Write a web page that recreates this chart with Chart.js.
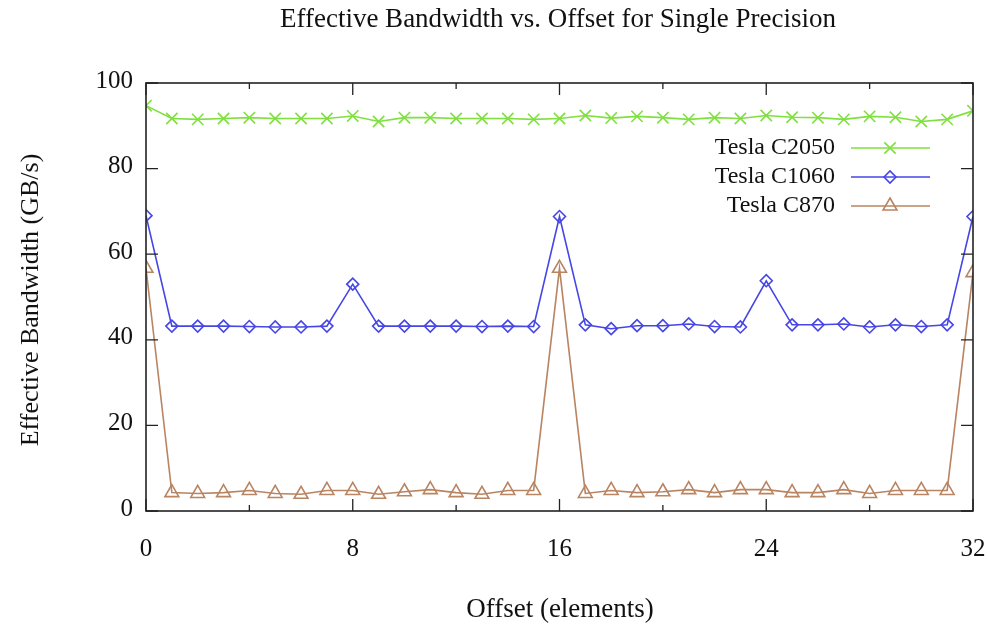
<!DOCTYPE html>
<html><head><meta charset="utf-8">
<script src="https://cdn.jsdelivr.net/npm/chart.js@4.4.1/dist/chart.umd.min.js"></script>
<style>html,body{margin:0;padding:0;background:#fff}#wrap{width:988px;height:624px}</style>
</head><body><div id="wrap"><canvas id="c" width="988" height="624"></canvas></div>
<script>
const offsets = [0,1,2,3,4,5,6,7,8,9,10,11,12,13,14,15,16,17,18,19,20,21,22,23,24,25,26,27,28,29,30,31,32];
const teslaC2050 = [94.7,91.7,91.5,91.7,91.9,91.7,91.7,91.7,92.3,91.0,91.9,91.9,91.7,91.7,91.7,91.5,91.7,92.4,91.8,92.2,91.9,91.5,91.9,91.7,92.4,92.0,91.9,91.5,92.2,92.0,91.0,91.5,93.5];
const teslaC1060 = [69.0,43.2,43.2,43.2,43.1,43.0,43.0,43.2,53.0,43.2,43.2,43.2,43.2,43.1,43.2,43.1,68.8,43.5,42.6,43.3,43.3,43.7,43.1,43.0,53.8,43.5,43.5,43.7,43.0,43.5,43.1,43.5,68.8];
const teslaC870 = [56.7,4.3,4.1,4.3,4.8,4.1,3.9,4.8,4.8,3.9,4.5,5.0,4.3,3.9,4.8,4.8,56.7,4.1,4.8,4.3,4.5,5.0,4.3,5.0,5.0,4.3,4.3,5.0,4.1,4.8,4.8,4.8,55.7];
const seriesNames = ['Tesla C2050','Tesla C1060','Tesla C870'];
const xTicks = [0,8,16,24,32];
const yTicks = [0,20,40,60,80,100];
const chartTitle = 'Effective Bandwidth vs. Offset for Single Precision';
const xTitle = 'Offset (elements)';
const yTitle = 'Effective Bandwidth (GB/s)';

const FONT = '"Liberation Serif", "DejaVu Serif", serif';
const colors = ['#7fe040','#4646e6','#b98462'];

function mk(data, i, style, radius){
  return {label: seriesNames[i], data: offsets.map((x,k)=>({x, y: data[k]})),
    borderColor: colors[i], backgroundColor: 'rgba(255,255,255,0)', borderWidth: 1.6,
    pointStyle: style, pointRadius: radius, pointBorderWidth: 1.6, pointBorderColor: colors[i],
    pointBackgroundColor: 'rgba(255,255,255,0)', tension: 0};
}

const frame = {
  id: 'frame',
  afterDraw(chart){
    const ctx = chart.ctx, a = chart.chartArea, xs = chart.scales.x, ys = chart.scales.y;
    ctx.save();
    ctx.strokeStyle = '#222'; ctx.lineWidth = 1.6;
    ctx.strokeRect(a.left, a.top, a.right - a.left, a.bottom - a.top);
    ctx.lineWidth = 1.3;
    yTicks.forEach(v => {
      const y = ys.getPixelForValue(v);
      ctx.beginPath(); ctx.moveTo(a.left, y); ctx.lineTo(a.left + 12, y);
      ctx.moveTo(a.right, y); ctx.lineTo(a.right - 12, y); ctx.stroke();
    });
    for (let v = 0; v <= 32; v += 4) {
      const x = xs.getPixelForValue(v);
      const len = (v % 8 === 0) ? 12 : 6;
      ctx.beginPath(); ctx.moveTo(x, a.bottom); ctx.lineTo(x, a.bottom - len);
      ctx.moveTo(x, a.top); ctx.lineTo(x, a.top + len); ctx.stroke();
    }
    ctx.fillStyle = '#111';
    ctx.font = '25px ' + FONT;
    ctx.textAlign = 'right'; ctx.textBaseline = 'middle';
    yTicks.forEach(v => ctx.fillText(String(v), a.left - 13, ys.getPixelForValue(v) - 2));
    ctx.textAlign = 'center';
    xTicks.forEach(v => ctx.fillText(String(v), xs.getPixelForValue(v), a.bottom + 38));
    ctx.font = '27px ' + FONT;
    ctx.fillText(chartTitle, 558, 20);
    ctx.fillText(xTitle, 560, 610);
    ctx.font = '26px ' + FONT;
    ctx.save(); ctx.translate(31, 300); ctx.rotate(-Math.PI/2);
    ctx.fillText(yTitle, 0, 0); ctx.restore();
    const rows = [148, 177, 206];
    chart.data.datasets.forEach((ds, i) => {
      const y = rows[i];
      ctx.font = '24px ' + FONT; ctx.fillStyle = '#111';
      ctx.textAlign = 'right'; ctx.textBaseline = 'middle';
      ctx.fillText(ds.label, 835, y);
      ctx.strokeStyle = ds.borderColor; ctx.lineWidth = 1.6;
      ctx.beginPath(); ctx.moveTo(851, y); ctx.lineTo(930, y); ctx.stroke();
      ctx.fillStyle = 'rgba(255,255,255,0)';
      Chart.helpers.drawPoint(ctx, {pointStyle: ds.pointStyle, radius: ds.pointRadius, borderWidth: 1.6}, 890, y);
    });
    ctx.restore();
  }
};

new Chart(document.getElementById('c'), {
  type: 'line',
  data: { datasets: [
    mk(teslaC2050, 0, 'crossRot', 8),
    mk(teslaC1060, 1, 'rectRot', 6),
    mk(teslaC870, 2, 'triangle', 8)
  ]},
  options: {
    responsive: false, animation: false, devicePixelRatio: 1,
    layout: { padding: { left: 146, right: 15, top: 83, bottom: 113 } },
    plugins: { legend: { display: false }, title: { display: false }, tooltip: { enabled: false } },
    scales: {
      x: { type: 'linear', min: 0, max: 32, display: false },
      y: { type: 'linear', min: 0, max: 100, display: false }
    }
  },
  plugins: [frame]
});
</script></body></html>
